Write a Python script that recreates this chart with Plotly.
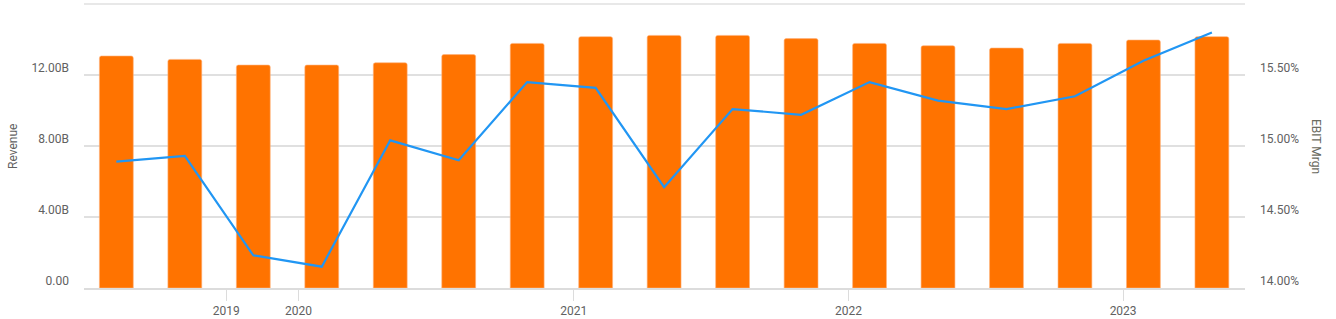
import plotly.graph_objects as go

dates = ["2019-05-04", "2019-08-03", "2019-11-02", "2020-02-01", "2020-05-02",
         "2020-08-01", "2020-10-31", "2021-01-30", "2021-05-01", "2021-07-31",
         "2021-10-30", "2022-01-29", "2022-04-30", "2022-07-30", "2022-10-29",
         "2023-01-28", "2023-04-29"]
revenue_b = [13.07, 12.88, 12.56, 12.56, 12.69, 13.15, 13.78, 14.16, 14.23, 14.23,
             14.05, 13.78, 13.65, 13.52, 13.78, 13.97, 14.16]
ebit_margin = [14.89, 14.93, 14.23, 14.15, 15.04, 14.90, 15.45, 15.41, 14.71, 15.26,
               15.22, 15.45, 15.32, 15.26, 15.35, 15.60, 15.80]

year_tick_dates = ["2019-09-27", "2020-01-01", "2021-01-01", "2022-01-01", "2023-01-01"]
year_tick_text = ["2019", "2020", "2021", "2022", "2023"]

rev_ticks = [0, 4e9, 8e9, 12e9]
rev_text = ["0.00", "4.00B", "8.00B", "12.00B"]
mrg_ticks = [14.0, 14.5, 15.0, 15.5]
mrg_text = ["14.00%", "14.50%", "15.00%", "15.50%"]

FONT = "Roboto, Arial, sans-serif"
TXT = "#616161"
GRID = "#E0E0E0"

fig = go.Figure()
fig.add_trace(go.Bar(
    x=dates, y=[v * 1e9 for v in revenue_b], name="Revenue",
    marker=dict(color="#FF7300", line=dict(width=0.6, color="#FFB27A"), cornerradius=2),
    width=45 * 86400000, yaxis="y"))
fig.add_trace(go.Scatter(
    x=dates, y=ebit_margin, name="EBIT Mrgn", mode="lines",
    line=dict(color="#2196F3", width=2.2), yaxis="y2"))

fig.update_layout(
    width=1336, height=319,
    margin=dict(l=84, r=91, t=4, b=31, autoexpand=False),
    paper_bgcolor="white", plot_bgcolor="white",
    showlegend=False,
    font=dict(family=FONT, size=12, color=TXT),
    xaxis=dict(type="date", range=["2019-03-22", "2023-06-12"],
               tickvals=year_tick_dates, ticktext=year_tick_text, automargin=False,
               showgrid=False, showline=True, linecolor="#DCDCDC", linewidth=2,
               ticks="outside", ticklen=11, tickcolor="#DCDCDC", tickwidth=1,
               ticklabelstandoff=0,
               tickfont=dict(size=12, color=TXT, family=FONT)),
    yaxis=dict(range=[0, 16e9], tickvals=rev_ticks, ticktext=rev_text, automargin=False,
               showgrid=True, gridcolor=GRID, gridwidth=1.5, zeroline=False,
               ticks="", ticklabelstandoff=14, ticklabelshift=-7,
               tickfont=dict(size=12, color=TXT, family=FONT)),
    yaxis2=dict(range=[14, 16], tickvals=mrg_ticks, ticktext=mrg_text, automargin=False,
                overlaying="y", side="right", showgrid=False, zeroline=False,
                ticks="", ticklabelstandoff=14, ticklabelshift=-7,
                tickfont=dict(size=12, color=TXT, family=FONT)),
    shapes=[dict(type="line", xref="paper", yref="paper", x0=0, x1=1, y0=1, y1=1,
                 line=dict(color=GRID, width=1.5), layer="below")],
    annotations=[
        dict(text="Revenue", xref="paper", yref="paper", x=-0.0612, y=0.5,
             textangle=-90, showarrow=False, xanchor="center", yanchor="middle",
             font=dict(size=12, color=TXT, family=FONT)),
        dict(text="EBIT Mrgn", xref="paper", yref="paper", x=1.0612, y=0.5,
             textangle=90, showarrow=False, xanchor="center", yanchor="middle",
             font=dict(size=12, color="#6B6B5F", family=FONT)),
    ],
)

fig.write_html("out.html")
